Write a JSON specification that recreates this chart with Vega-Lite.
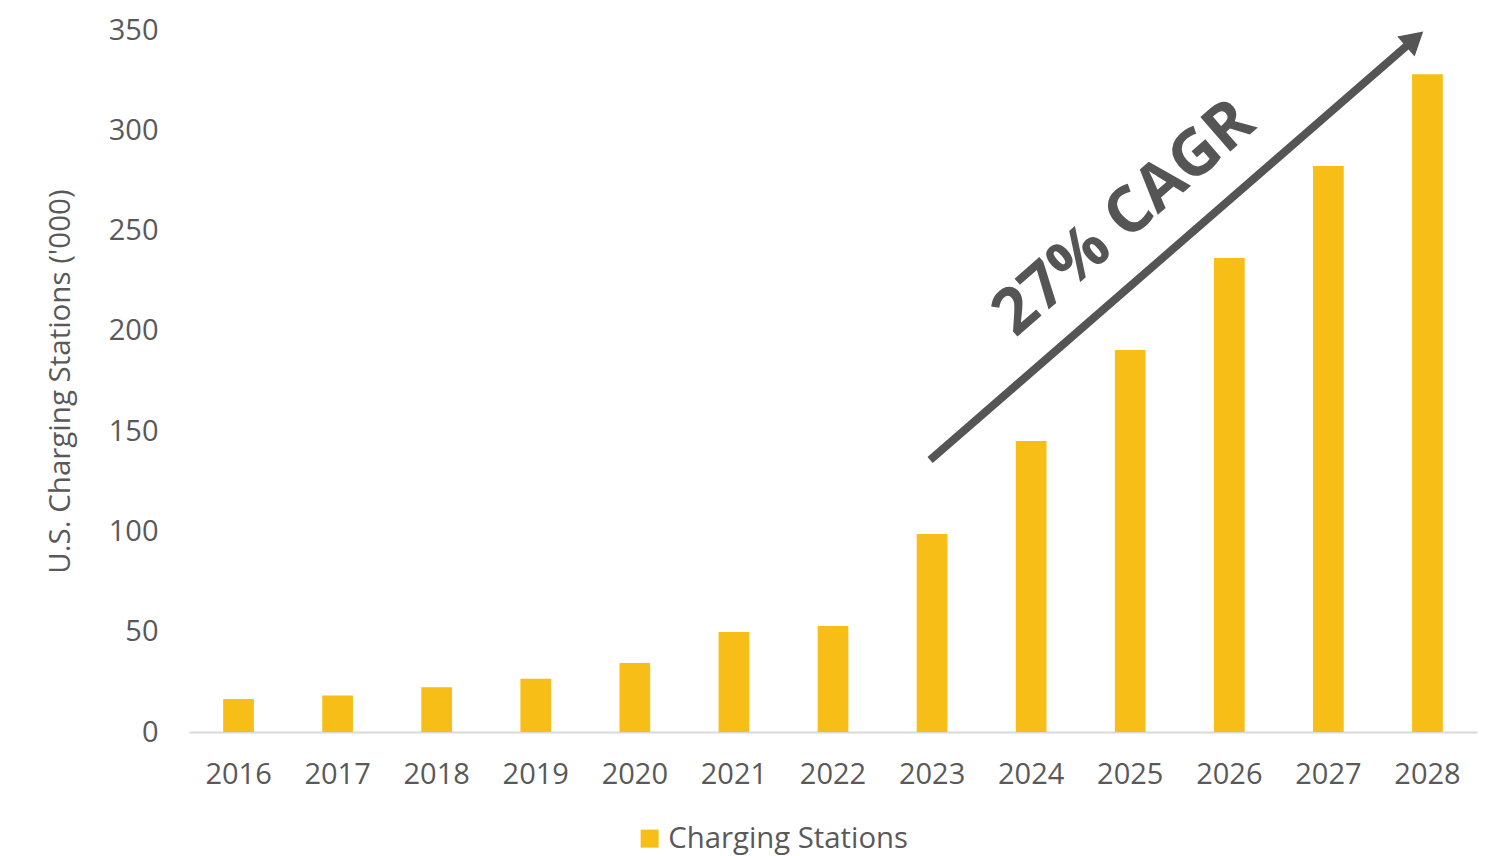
{
  "$schema": "https://vega.github.io/schema/vega-lite/v6.json",
  "width": 1288,
  "height": 702,
  "autosize": {"type": "none"},
  "padding": {"left": 189, "top": 30, "right": 19, "bottom": 124},
  "background": "white",
  "config": {
    "view": {"stroke": null},
    "font": "Open Sans",
    "axis": {"labelFont": "Open Sans", "titleFont": "Open Sans", "labelColor": "#595959", "titleColor": "#595959", "grid": false, "ticks": false},
    "legend": {"labelFont": "Open Sans"}
  },
  "datasets": {
    "bars": [
      {"year": "2016", "value": 16.5, "series": "Charging Stations"},
      {"year": "2017", "value": 18.2, "series": "Charging Stations"},
      {"year": "2018", "value": 22.3, "series": "Charging Stations"},
      {"year": "2019", "value": 26.6, "series": "Charging Stations"},
      {"year": "2020", "value": 34.4, "series": "Charging Stations"},
      {"year": "2021", "value": 49.9, "series": "Charging Stations"},
      {"year": "2022", "value": 52.8, "series": "Charging Stations"},
      {"year": "2023", "value": 98.7, "series": "Charging Stations"},
      {"year": "2024", "value": 145.1, "series": "Charging Stations"},
      {"year": "2025", "value": 190.4, "series": "Charging Stations"},
      {"year": "2026", "value": 236.3, "series": "Charging Stations"},
      {"year": "2027", "value": 282.2, "series": "Charging Stations"},
      {"year": "2028", "value": 328.0, "series": "Charging Stations"}
    ],
    "arrow": [
      {"x": 7.48, "y": 135.6, "x2": 12.32, "y2": 343.4}
    ],
    "head": [
      {"x": 12.37, "y": 345.5}
    ],
    "label": [
      {"x": 9.44, "y": 256, "text": "27% CAGR"}
    ]
  },
  "resolve": {"scale": {"x": "independent"}},
  "layer": [
    {
      "data": {"name": "bars"},
      "mark": {"type": "bar"},
      "encoding": {
        "x": {
          "field": "year", "type": "ordinal",
          "scale": {"paddingInner": 0.69, "paddingOuter": 0.345},
          "axis": {"title": null, "labelAngle": 0, "labelFontSize": 29, "labelPadding": 28, "domainColor": "#D9D9D9", "domainWidth": 2}
        },
        "y": {
          "field": "value", "type": "quantitative",
          "scale": {"domain": [0, 350], "nice": false},
          "axis": {"title": "U.S. Charging Stations ('000)", "titleFontSize": 29.5, "titleFontWeight": "normal", "titlePadding": 33, "labelFontSize": 29, "labelPadding": 31, "values": [0, 50, 100, 150, 200, 250, 300, 350], "domain": false}
        },
        "color": {
          "field": "series", "type": "nominal",
          "scale": {"range": ["#F6BE17"]},
          "legend": {"title": null, "orient": "none", "legendX": 446, "legendY": 794, "symbolType": "square", "symbolSize": 324, "labelFontSize": 29.3, "labelColor": "#595959", "labelLimit": 0, "symbolStrokeWidth": 0}
        }
      }
    },
    {
      "data": {"name": "arrow"},
      "mark": {"type": "rule", "color": "#555555", "strokeWidth": 8},
      "encoding": {
        "x": {"field": "x", "type": "quantitative", "scale": {"domain": [0, 13], "nice": false, "zero": false}, "axis": null},
        "x2": {"field": "x2"},
        "y": {"field": "y", "type": "quantitative"},
        "y2": {"field": "y2"}
      }
    },
    {
      "data": {"name": "head"},
      "mark": {"type": "point", "shape": "triangle-up", "filled": true, "color": "#555555", "size": 700, "angle": 49, "opacity": 1},
      "encoding": {
        "x": {"field": "x", "type": "quantitative", "scale": {"domain": [0, 13], "nice": false, "zero": false}, "axis": null},
        "y": {"field": "y", "type": "quantitative"}
      }
    },
    {
      "data": {"name": "label"},
      "mark": {"type": "text", "font": "Open Sans", "fontWeight": "bold", "fontSize": 64, "color": "#555555", "angle": -41, "align": "center", "baseline": "middle"},
      "encoding": {
        "x": {"field": "x", "type": "quantitative", "scale": {"domain": [0, 13], "nice": false, "zero": false}, "axis": null},
        "y": {"field": "y", "type": "quantitative"},
        "text": {"field": "text"}
      }
    }
  ]
}
